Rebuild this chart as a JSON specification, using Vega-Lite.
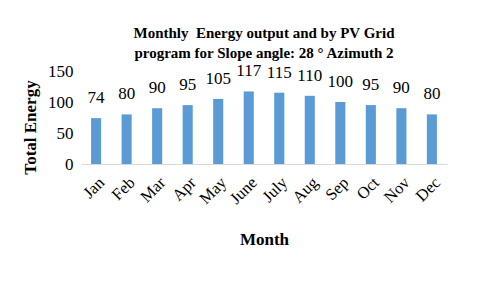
{
  "$schema": "https://vega.github.io/schema/vega-lite/v6.json",
  "width": 366,
  "height": 93,
  "autosize": {"type": "none"},
  "padding": {"left": 81, "top": 71, "right": 33, "bottom": 122},
  "background": "white",
  "title": {
    "text": ["Monthly\u00a0 Energy output and by PV Grid", "program for Slope angle: 28 ° Azimuth 2"],
    "font": "Liberation Serif, serif",
    "fontSize": 15,
    "fontWeight": "bold",
    "lineHeight": 20,
    "color": "#000000",
    "anchor": "middle",
    "frame": "group",
    "offset": 1
  },
  "data": {
    "values": [
      {"month": "Jan", "energy": 74},
      {"month": "Feb", "energy": 80},
      {"month": "Mar", "energy": 90},
      {"month": "Apr", "energy": 95},
      {"month": "May", "energy": 105},
      {"month": "June", "energy": 117},
      {"month": "July", "energy": 115},
      {"month": "Aug", "energy": 110},
      {"month": "Sep", "energy": 100},
      {"month": "Oct", "energy": 95},
      {"month": "Nov", "energy": 90},
      {"month": "Dec", "energy": 80}
    ]
  },
  "encoding": {
    "x": {
      "field": "month",
      "type": "nominal",
      "sort": null,
      "scale": {"paddingInner": 0.67, "paddingOuter": 0.33},
      "axis": {
        "title": "Month",
        "titleFont": "Liberation Serif, serif",
        "titleFontSize": 17,
        "titleFontWeight": "bold",
        "titleColor": "#000000",
        "titlePadding": 24,
        "labelFont": "Liberation Serif, serif",
        "labelFontSize": 16.5,
        "labelColor": "#000000",
        "labelAngle": -45,
        "labelPadding": 10,
        "ticks": false,
        "domainColor": "#d9d9d9",
        "grid": false
      }
    },
    "y": {
      "field": "energy",
      "type": "quantitative",
      "scale": {"domain": [0, 150]},
      "axis": {
        "title": "Total Energy",
        "values": [0, 50, 100, 150],
        "titleFont": "Liberation Serif, serif",
        "titleFontSize": 17,
        "titleFontWeight": "bold",
        "titleColor": "#000000",
        "titlePadding": 8,
        "titleY": 56,
        "labelFont": "Liberation Serif, serif",
        "labelFontSize": 17,
        "labelColor": "#000000",
        "labelPadding": 8,
        "ticks": false,
        "domain": false,
        "grid": false
      }
    }
  },
  "layer": [
    {"mark": {"type": "bar", "color": "#5B9BD5"}},
    {
      "mark": {"type": "text", "font": "Liberation Serif, serif", "fontSize": 17, "color": "#000000", "baseline": "bottom", "dy": -11},
      "encoding": {"text": {"field": "energy", "type": "quantitative"}}
    }
  ],
  "config": {"view": {"stroke": null}, "font": "Liberation Serif, serif"}
}
